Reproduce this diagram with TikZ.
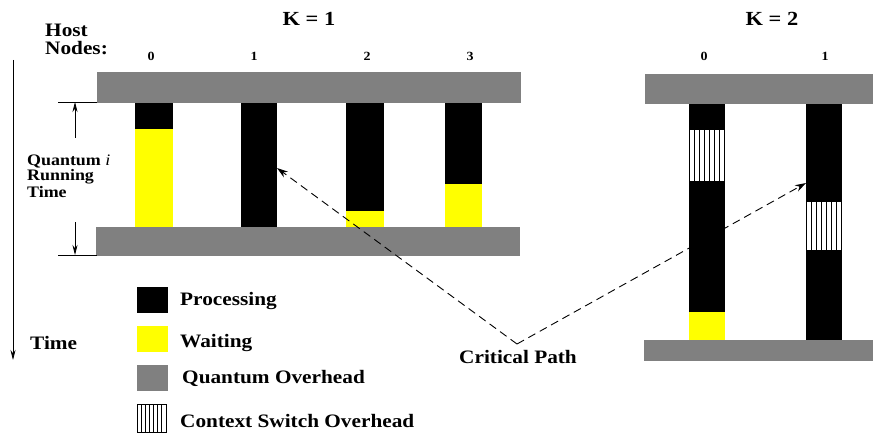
\documentclass[tikz,border=0pt]{standalone}
\usepackage{fontspec}
\setmainfont{Liberation Serif}[FakeStretch=1.12]
\usetikzlibrary{arrows.meta}
\definecolor{qgray}{RGB}{128,128,128}
\definecolor{wyellow}{RGB}{255,255,0}
\tikzset{
  qbar/.style={fill=qgray},
  proc/.style={fill=black},
  wait/.style={fill=wyellow},
  lbl/.style={inner sep=0pt, font=\bfseries\fontsize{19}{19}\selectfont},
  klbl/.style={inner sep=0pt, font=\bfseries\fontsize{20}{20}\selectfont},
  nlbl/.style={inner sep=0pt, font=\bfseries\fontsize{12.5}{12.5}\selectfont},
  qlbl/.style={inner sep=0pt, align=left, font=\bfseries\fontsize{16}{16}\selectfont},
  crit/.style={dashed, dash pattern=on 8pt off 5pt, line width=0.9pt, -{Stealth[length=11pt,width=7pt]}},
  dimarrow/.style={line width=0.8pt, -{Stealth[length=10pt,width=5pt]}},
  hatchline/.style={line width=1.1pt}
}
\begin{document}
\begin{tikzpicture}[x=1pt,y=-1pt]
\useasboundingbox (0,0) rectangle (873,433);
% ---------- K = 1 ----------
\node[klbl, anchor=base] (k1) at (309,26) {K = 1};
\node[lbl, anchor=base west, align=left] (host) at (45,37) {Host};
\node[lbl, anchor=base west] (nodes) at (45,55) {Nodes:};
\node[nlbl, anchor=base] (n0) at (151,61) {0};
\node[nlbl, anchor=base] (n1) at (254,61) {1};
\node[nlbl, anchor=base] (n2) at (367,61) {2};
\node[nlbl, anchor=base] (n3) at (470,61) {3};
\fill[qbar] (97,72) rectangle (521,103);
\fill[qbar] (96,227) rectangle (520,256);
% columns
\fill[proc] (135,103) rectangle (173,129);
\fill[wait] (135,129) rectangle (173,227);
\fill[proc] (241,103) rectangle (277,227);
\fill[proc] (346,103) rectangle (384,211);
\fill[wait] (346,211) rectangle (384,227);
\fill[proc] (445,103) rectangle (482,184);
\fill[wait] (445,184) rectangle (482,227);
\coordinate (c1tip) at (277,168);
% ---------- K = 2 ----------
\node[klbl, anchor=base] (k2) at (772,26) {K = 2};
\node[nlbl, anchor=base] (m0) at (704,61) {0};
\node[nlbl, anchor=base] (m1) at (825,61) {1};
\fill[qbar] (645,74) rectangle (873,104);
\fill[qbar] (644,340) rectangle (873,361);
\fill[proc] (689,104) rectangle (725,340);
\fill[white] (689,130) rectangle (725,181);
\foreach \i in {0,...,7} \draw[hatchline] ({689.5+\i*35/7},130) -- ({689.5+\i*35/7},181);
\fill[wait] (689,312) rectangle (725,340);
\fill[proc] (806,104) rectangle (842,340);
\fill[white] (806,202) rectangle (842,250);
\foreach \i in {0,...,7} \draw[hatchline] ({806.5+\i*35/7},202) -- ({806.5+\i*35/7},250);
\coordinate (d1tip) at (806,183);
% ---------- time axis ----------
\coordinate (ttop) at (13,60);
\coordinate (tbot) at (13,360);
\draw[dimarrow] (ttop) -- (tbot);
\node[lbl, anchor=base west] (time) at (30,349) {Time};
% ---------- quantum running time ----------
\coordinate (qa) at (58,102);
\coordinate (qb) at (97,102);
\coordinate (qc) at (58,255);
\coordinate (qd) at (97,255);
\draw[line width=0.8pt] (qa) -- (qb);
\draw[line width=0.8pt] (qc) -- (qd);
\coordinate (qu0) at (75,138);
\coordinate (qu1) at (75,102);
\coordinate (qd0) at (75,222);
\coordinate (qd1) at (75,255);
\draw[dimarrow] (qu0) -- (qu1);
\draw[dimarrow] (qd0) -- (qd1);
\node[qlbl, anchor=base west] (qrt1) at (27,165) {Quantum \textnormal{\itshape i}};
\node[qlbl, anchor=base west] (qrt2) at (27,181) {Running};
\node[qlbl, anchor=base west] (qrt3) at (27,197) {Time};
% ---------- legend ----------
\fill[proc] (137,287) rectangle (168,313);
\fill[wait] (137,326) rectangle (168,352);
\fill[qbar] (137,365) rectangle (168,391);
\draw[line width=0.8pt] (137,404) rectangle (166,432);
\foreach \i in {1,...,6} \draw[line width=0.9pt] ({137+\i*29/7},404) -- ({137+\i*29/7},432);
\node[lbl, anchor=base west] (lp) at (180,305) {Processing};
\node[lbl, anchor=base west] (lw) at (180,347) {Waiting};
\node[lbl, anchor=base west] (lq) at (182,383) {Quantum Overhead};
\node[lbl, anchor=base west] (lc) at (180,427) {Context Switch Overhead};
% ---------- critical path ----------
\node[lbl, anchor=base] (cp) at (518,363) {Critical Path};
\coordinate (apex) at (517,344);
\draw[crit] (apex) -- (c1tip);
\draw[crit] (apex) -- (d1tip);
\end{tikzpicture}
\end{document}
